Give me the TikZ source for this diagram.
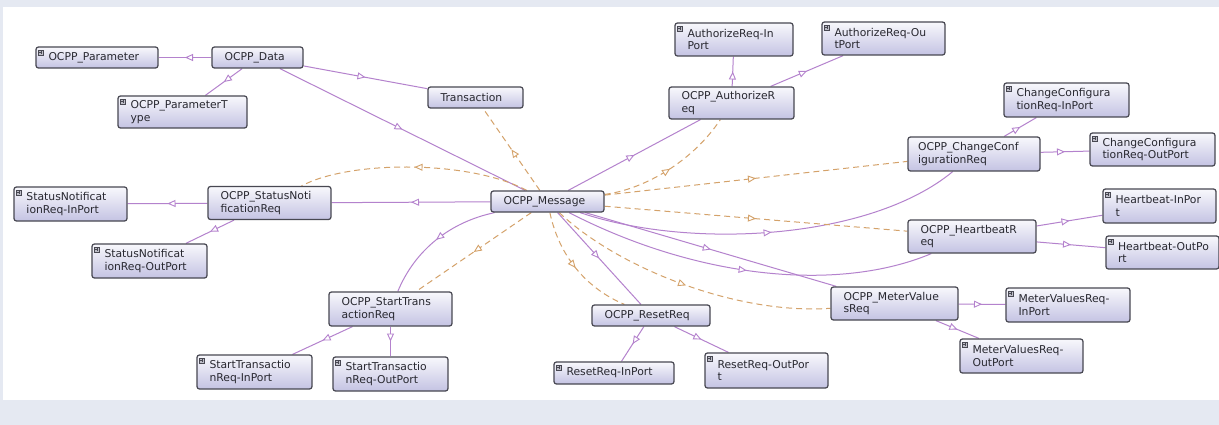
\documentclass[tikz,border=0pt]{standalone}
\usepackage{fontspec}
\setmainfont{DejaVu Sans}
\usetikzlibrary{arrows.meta,decorations.markings}

\definecolor{pagebg}{RGB}{229,233,242}
\definecolor{boxline}{RGB}{72,72,82}
\definecolor{boxtop}{RGB}{248,248,252}
\definecolor{boxbot}{RGB}{196,195,227}
\definecolor{boxtext}{RGB}{40,40,48}
\definecolor{isacol}{RGB}{180,130,205}
\definecolor{propcol}{RGB}{212,162,106}
\definecolor{iconfill}{RGB}{190,190,200}

\pgfdeclarelayer{back}
\pgfdeclarelayer{links}
\pgfsetlayers{back,links,main}

\tikzset{
  cls/.style={draw=boxline, line width=1.25pt, rounded corners=2.5pt,
    top color=boxtop, bottom color=boxbot, text=boxtext,
    font=\fontsize{10.8}{12.6}\selectfont, align=left,
    inner xsep=12.5pt, inner ysep=0pt},
  plusicon/.style={draw=boxline, fill=iconfill, line width=0.4pt,
    minimum size=5pt, inner sep=0pt, rounded corners=0pt,
    path picture={\draw[line width=0.6pt, boxline]
      ([xshift=-1.6pt]path picture bounding box.center) -- ([xshift=1.6pt]path picture bounding box.center)
      ([yshift=-1.6pt]path picture bounding box.center) -- ([yshift=1.6pt]path picture bounding box.center);}},
  midtip/.style={postaction={decorate}, decoration={markings,
    mark=at position 0.5 with {\arrow{Triangle[length=8pt,width=7pt,color=#1,fill=white,line width=0.9pt]}}}},
  isa/.style={draw=isacol, line width=1pt, midtip=isacol},
  prop/.style={draw=propcol, line width=1pt, dash pattern=on 6pt off 4pt, midtip=propcol},
}

\begin{document}
\begin{tikzpicture}[x=1pt,y=-1pt]
\useasboundingbox (0,0) rectangle (1219,425);
\begin{pgfonlayer}{back}
  \fill[pagebg] (0,0) rectangle (1219,425);
  \fill[white] (3,7) rectangle (1219,400);
\end{pgfonlayer}

% classes (node width = text width + 2 x inner xsep)
\node[cls, minimum width=122pt, minimum height=21pt, text width=97pt] (par) at (97,57.5) {OCPP\_Parameter};
\node[cls, minimum width=91pt, minimum height=21pt, text width=66pt] (data) at (257.5,57.5) {OCPP\_Data};
\node[cls, minimum width=129pt, minimum height=32pt, text width=104pt] (ptype) at (182.5,112) {OCPP\_ParameterT\\ype};
\node[cls, minimum width=95pt, minimum height=21pt, text width=70pt] (trans) at (475.5,97.5) {Transaction};

\node[cls, minimum width=118pt, minimum height=33pt, text width=93pt] (authin) at (734,39.5) {AuthorizeReq-In\\Port};
\node[cls, minimum width=125pt, minimum height=32pt, text width=100pt] (auth) at (731.5,103) {OCPP\_AuthorizeR\\eq};
\node[cls, minimum width=123pt, minimum height=33pt, text width=98pt] (authout) at (883.5,38.5) {AuthorizeReq-Ou\\tPort};

\node[cls, minimum width=125pt, minimum height=34pt, text width=100pt] (ccin) at (1066.5,100) {ChangeConfigura\\tionReq-InPort};
\node[cls, minimum width=132pt, minimum height=34pt, text width=112pt, inner xsep=10pt] (cc) at (974,154) {OCPP\_ChangeConf\\igurationReq};
\node[cls, minimum width=125pt, minimum height=33pt, text width=100pt] (ccout) at (1152.5,149.5) {ChangeConfigura\\tionReq-OutPort};

\node[cls, minimum width=113pt, minimum height=34pt, text width=88pt] (snin) at (70.5,204) {StatusNotificat\\ionReq-InPort};
\node[cls, minimum width=123pt, minimum height=33pt, text width=98pt] (sn) at (269.5,203) {OCPP\_StatusNoti\\ficationReq};
\node[cls, minimum width=115pt, minimum height=34pt, text width=90pt] (snout) at (149.5,261) {StatusNotificat\\ionReq-OutPort};

\node[cls, minimum width=113pt, minimum height=21pt, text width=88pt] (msg) at (547.5,201.5) {OCPP\_Message};

\node[cls, minimum width=123pt, minimum height=34pt, text width=98pt] (st) at (390.5,309) {OCPP\_StartTrans\\actionReq};
\node[cls, minimum width=115pt, minimum height=34pt, text width=90pt] (stin) at (254.5,372) {StartTransactio\\nReq-InPort};
\node[cls, minimum width=115pt, minimum height=34pt, text width=90pt] (stout) at (390.5,374) {StartTransactio\\nReq-OutPort};

\node[cls, minimum width=118pt, minimum height=21pt, text width=93pt] (reset) at (651,315.5) {OCPP\_ResetReq};
\node[cls, minimum width=120pt, minimum height=22pt, text width=95pt] (resetin) at (614,373) {ResetReq-InPort};
\node[cls, minimum width=123pt, minimum height=35pt, text width=98pt] (resetout) at (766.5,370.5) {ResetReq-OutPor\\t};

\node[cls, minimum width=128pt, minimum height=33pt, text width=103pt] (hb) at (972,236.5) {OCPP\_HeartbeatR\\eq};
\node[cls, minimum width=113pt, minimum height=34pt, text width=88pt] (hbin) at (1159.5,206) {Heartbeat-InPor\\t};
\node[cls, minimum width=113pt, minimum height=33pt, text width=97pt, inner xsep=8pt] (hbout) at (1162.5,252.5) {\hspace*{4pt}\mbox{Heartbeat-OutPo}\\\hspace*{4pt}rt};

\node[cls, minimum width=127pt, minimum height=33pt, text width=102pt] (mv) at (894.5,303.5) {OCPP\_MeterValue\\sReq};
\node[cls, minimum width=124pt, minimum height=34pt, text width=99pt] (mvin) at (1068,305) {MeterValuesReq-\\InPort};
\node[cls, minimum width=123pt, minimum height=34pt, text width=98pt] (mvout) at (1021.5,356) {MeterValuesReq-\\OutPort};

% expand markers on the port classes
\foreach \n in {par,ptype,authin,authout,ccin,ccout,snin,snout,stin,stout,resetin,resetout,hbin,hbout,mvin,mvout}
  \node[plusicon] (\n-plus) at ([shift={(5.5,6)}]\n.north west) {};

\begin{pgfonlayer}{links}
% subclass links
\draw[isa] (data) -- (par);
\draw[isa] (data) -- (ptype);
\draw[isa] (data) -- (trans);
\draw[isa] (data) -- (msg);
\draw[isa] (msg) -- (auth);
\draw[isa] (auth) -- (authin);
\draw[isa] (auth) -- (authout);
\draw[isa] (msg) .. controls (690,250) and (870,240) .. (cc);
\draw[isa] (cc) -- (ccin);
\draw[isa] (cc) -- (ccout);
\draw[isa] (msg) -- (sn);
\draw[isa] (sn) -- (snin);
\draw[isa] (sn) -- (snout);
\draw[isa] (msg) .. controls (450,222) and (415,250) .. (st);
\draw[isa] (st) -- (stin);
\draw[isa] (st) -- (stout);
\draw[isa] (msg) -- (reset);
\draw[isa] (reset) -- (resetin);
\draw[isa] (reset) -- (resetout);
\draw[isa] (msg) .. controls (700,280) and (840,292) .. (hb);
\draw[isa] (hb) -- (hbin);
\draw[isa] (hb) -- (hbout);
\draw[isa] (msg) -- (mv);
\draw[isa] (mv) -- (mvin);
\draw[isa] (mv) -- (mvout);

% property links
\draw[prop] (msg) -- (trans);
\draw[prop] (msg) .. controls (470,160) and (350,160) .. (sn);
\draw[prop] (msg) -- (st);
\draw[prop] (msg) .. controls (640,190) and (690,165) .. (auth);
\draw[prop] (msg) -- (cc);
\draw[prop] (msg) -- (hb);
\draw[prop] (msg) .. controls (620,270) and (740,315) .. (mv);
\draw[prop] (msg) .. controls (560,260) and (590,290) .. (reset);
\end{pgfonlayer}
\end{tikzpicture}
\end{document}
